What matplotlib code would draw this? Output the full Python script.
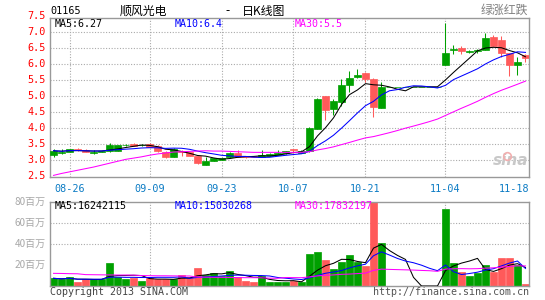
import numpy as np
import pandas as pd
import matplotlib
matplotlib.use("Agg")
import matplotlib.pyplot as plt
from matplotlib.transforms import blended_transform_factory

# ---------------- data ----------------
opens = [3.17, 3.21, 3.26, 3.36, 3.32, 3.22, 3.25, 3.27, 3.29, 3.46,
         3.51, 3.46, 3.51, 3.45, 3.26, 3.09, 3.29, 3.25, 3.13, 2.85,
         2.98, 3.00, 3.08, 3.21, 3.13, 3.13, 3.09, 3.13, 3.17, 3.21,
         3.35, 3.22, 3.27, 3.98, 4.99, 4.58, 4.82, 5.36, 5.60, 5.73,
         5.54, 4.64, 5.29, 5.29, 5.29, 5.29, 5.29, 5.29, 5.29, 5.97,
         6.43, 6.49, 6.38, 6.40, 6.44, 6.86, 6.75, 6.34, 5.97, 6.28]
highs = [3.34, 3.33, 3.35, 3.37, 3.33, 3.30, 3.29, 3.53, 3.48, 3.51,
         3.53, 3.50, 3.52, 3.46, 3.27, 3.37, 3.31, 3.26, 3.14, 3.08,
         3.07, 3.06, 3.24, 3.30, 3.14, 3.14, 3.32, 3.21, 3.30, 3.29,
         3.36, 3.30, 4.03, 4.93, 5.00, 4.92, 5.54, 5.78, 5.86, 5.75,
         5.55, 5.43, 5.29, 5.29, 5.29, 5.29, 5.29, 5.29, 5.29, 7.27,
         6.59, 6.57, 6.45, 6.48, 6.97, 6.91, 6.88, 6.35, 6.23, 6.30]
lows = [3.11, 3.20, 3.24, 3.29, 3.25, 3.20, 3.24, 3.26, 3.28, 3.44,
        3.44, 3.43, 3.41, 3.25, 3.06, 3.08, 3.13, 3.12, 2.88, 2.84,
        2.97, 2.99, 3.07, 3.10, 3.07, 3.08, 3.08, 3.12, 3.16, 3.20,
        3.23, 3.21, 3.26, 3.97, 4.26, 4.40, 4.68, 5.12, 5.55, 5.43,
        4.36, 4.62, 5.29, 5.29, 5.29, 5.29, 5.29, 5.29, 5.29, 5.97,
        6.33, 6.33, 6.35, 6.35, 6.43, 6.56, 6.23, 5.62, 5.65, 6.05]
closes = [3.29, 3.26, 3.33, 3.30, 3.26, 3.25, 3.28, 3.47, 3.47, 3.48,
          3.44, 3.48, 3.42, 3.27, 3.08, 3.33, 3.24, 3.14, 2.92, 2.98,
          3.05, 3.05, 3.23, 3.11, 3.08, 3.09, 3.16, 3.19, 3.23, 3.28,
          3.30, 3.28, 4.00, 4.91, 4.56, 4.84, 5.36, 5.55, 5.65, 5.54,
          4.66, 5.29, 5.29, 5.29, 5.29, 5.29, 5.29, 5.29, 5.29, 6.36,
          6.46, 6.41, 6.41, 6.43, 6.80, 6.57, 6.34, 5.97, 6.08, 6.18]
# volume in millions of shares
volumes = [7.3, 6.3, 8.2, 4.1, 6.3, 6.3, 6.3, 22.1, 8.8, 6.3,
           7.3, 5.0, 7.9, 6.3, 6.3, 6.3, 10.4, 8.2, 17.4, 10.4,
           12.0, 9.5, 14.2, 8.8, 5.0, 4.1, 9.5, 4.1, 3.5, 3.5,
           4.7, 4.1, 30.4, 32.3, 24.7, 16.1, 23.1, 29.4, 23.1, 19.0,
           85.0, 41.1, 0, 0, 0, 0, 0, 0, 0, 73.0,
           22.1, 13.6, 9.8, 12.6, 19.9, 13.3, 26.6, 26.6, 19.6, 1.9]
# MA30 values read for the first 29 sessions (need history before the window)
ma30_price_head = [2.52, 2.58, 2.63, 2.68, 2.73, 2.78, 2.84, 2.90, 2.96, 3.02,
                   3.06, 3.10, 3.15, 3.19, 3.22, 3.25, 3.26, 3.27, 3.28, 3.29,
                   3.28, 3.28, 3.27, 3.26, 3.25, 3.24, 3.24, 3.24, 3.24]
ma30_vol_head = [12.0, 11.9, 11.7, 11.6, 10.8, 10.7, 10.6, 10.5, 10.4, 10.4,
                 10.3, 9.9, 9.8, 9.7, 9.7, 9.6, 9.5, 9.5, 8.5, 8.4,
                 8.3, 8.2, 8.1, 8.0, 7.9, 7.9, 7.8, 7.4, 7.3]

tick_idx = [2, 12, 21, 30, 39, 49]
tick_labels = ['08-26', '09-09', '09-23', '10-07', '10-21', '11-04']
last_label = '11-18'
vol_grid_idx = [12, 49]
price_levels = [2.5, 3.0, 3.5, 4.0, 4.5, 5.0, 5.5, 6.0, 6.5, 7.0, 7.5]
price_grid = [3.0, 3.5, 4.0, 4.5, 5.0, 5.5, 6.0, 6.5, 7.0]
vol_levels = [20, 40, 60, 80]
vol_grid = [40, 60]

ma_text_price = ['MA5:6.27', 'MA10:6.4', 'MA30:5.5']
ma_text_vol = ['MA5:16242115', 'MA10:15030268', 'MA30:17832197']

# ---------------- derived ----------------
n = len(closes)
x = np.arange(n)
o = np.array(opens); c = np.array(closes)
h = np.array(highs); l = np.array(lows)
v = np.array(volumes)
GREEN = '#00A000'
RED = '#FF5A5A'
up = c >= o
cols = np.where(up, GREEN, RED)

cs = pd.Series(closes)
ma5 = cs.rolling(5, min_periods=1).mean().values
ma10 = cs.rolling(10, min_periods=1).mean().values
ma30 = cs.rolling(30).mean().values
ma30[:len(ma30_price_head)] = ma30_price_head

vs = pd.Series(volumes)
vma5 = vs.rolling(5, min_periods=1).mean().values
vma10 = vs.rolling(10, min_periods=1).mean().values
vma30 = vs.rolling(30).mean().values
vma30[:len(ma30_vol_head)] = ma30_vol_head

# ---------------- figure ----------------
W, H = 545, 300
fig = plt.figure(figsize=(W / 100, H / 100), dpi=100)
fig.patch.set_facecolor('white')


def fx(px):
    return px / W


def fy(py):
    return 1 - py / H


ax = fig.add_axes([fx(50), fy(177.3), fx(529) - fx(50), fy(18) - fy(177.3)])
axv = fig.add_axes([fx(50), fy(286), fx(529) - fx(50), fy(201.7) - fy(286)])

MONO = 'DejaVu Sans Mono'
CJK = ['Noto Sans CJK SC', 'DejaVu Sans']
GRID = dict(color='#AAAAAA', lw=0.8, ls=(0, (1, 1.5)), zorder=0)
LW = 0.75

for a in (ax, axv):
    a.set_xlim(-0.44, n - 0.56)
    a.set_xticks([]); a.set_yticks([])
    for s in a.spines.values():
        s.set_color('#999999'); s.set_linewidth(1.0)

ax.set_ylim(2.46, 7.44)
axv.set_ylim(0, 80)

for g in price_grid:
    ax.axhline(g, **GRID)
for t in tick_idx:
    ax.axvline(t, **GRID)
for g in vol_grid:
    axv.axhline(g, **GRID)
for t in vol_grid_idx:
    axv.axvline(t, **GRID)

# candles
BW = 0.82
ax.vlines(x, l, h, colors=cols, lw=LW, zorder=2)
ax.bar(x, np.abs(c - o), bottom=np.minimum(o, c), width=BW, color=cols,
       edgecolor=cols, linewidth=0.5, zorder=3)

ax.plot(x, ma5, color='black', lw=LW, zorder=4)
ax.plot(x, ma10, color='#0000FF', lw=LW, zorder=4)
ax.plot(x, ma30, color='#FF00FF', lw=LW, zorder=4)

# volume
axv.bar(x, v, width=BW, color=cols, edgecolor=cols, linewidth=0.5, zorder=2)
axv.plot(x, vma5, color='black', lw=LW, zorder=4)
axv.plot(x, vma10, color='#0000FF', lw=LW, zorder=4)
axv.plot(x, vma30, color='#FF00FF', lw=LW, zorder=4)

# sina watermark
ax.text(0.998, 0.06, 'sina', transform=ax.transAxes, ha='right', va='bottom',
        fontsize=11, style='italic', weight='bold', color='#C8C8C8', zorder=1)
ax.plot([0.955], [0.135], transform=ax.transAxes, marker='o', ms=5.5,
        mfc='none', mec='#F2AFAF', mew=1.2, zorder=1)

# price labels
tp = blended_transform_factory(ax.transAxes, ax.transData)
xlab = (45.5 - 50) / 479
for p in price_levels:
    ax.text(xlab, p, f'{p:.1f}', transform=tp, ha='right', va='center',
            color='#FF0000', fontsize=7.3, family=MONO, clip_on=False)

# date labels
td = blended_transform_factory(ax.transData, ax.transAxes)
ydl = (177.3 - 188.5) / 159.3
for t, s in zip(tick_idx, tick_labels):
    ax.text(t, ydl, s, transform=td, ha='center', va='center',
            color='#0B7BC4', fontsize=7.3, family=MONO, clip_on=False)
ax.text(1.0, ydl, last_label, transform=ax.transAxes, ha='right', va='center',
        color='#0B7BC4', fontsize=7.3, family=MONO, clip_on=False)

# volume labels
tv = blended_transform_factory(axv.transAxes, axv.transData)
for lv in vol_levels:
    axv.text(xlab, lv, f'{lv}百万', transform=tv, ha='right', va='center',
             color='#A8A8A8', fontsize=7.2, family=CJK, clip_on=False)

# MA legend texts
ma_cols = ['black', '#0000FF', '#FF00FF']
for xp, s, col in zip([55, 175, 295], ma_text_price, ma_cols):
    fig.text(fx(xp), fy(24), s, color=col, fontsize=7.2, family=MONO,
             ha='left', va='center')
for xp, s, col in zip([55, 175, 295], ma_text_vol, ma_cols):
    fig.text(fx(xp), fy(206), s, color=col, fontsize=7.2, family=MONO,
             ha='left', va='center')

# header
fig.text(fx(50), fy(11), '01165', color='black', fontsize=7.3, family=MONO,
         ha='left', va='center')
fig.text(fx(120), fy(11), '顺风光电', color='black', fontsize=8.6, family=CJK,
         ha='left', va='center')
fig.text(fx(225), fy(11), '-', color='black', fontsize=8.6, family=CJK,
         ha='left', va='center')
fig.text(fx(242), fy(11), '日K线图', color='black', fontsize=8.6, family=CJK,
         ha='left', va='center')
fig.text(fx(528), fy(10), '绿涨红跌', color='#808080', fontsize=8.6, family=CJK,
         ha='right', va='center')

# footer
fig.text(fx(50), fy(292), 'Copyright 2013 SINA.COM', color='#444444',
         fontsize=7.2, family=MONO, ha='left', va='center')
fig.text(fx(529), fy(292), 'http://finance.sina.com.cn', color='#555555',
         fontsize=7.2, family=MONO, ha='right', va='center')

fig.savefig('out.png', dpi=100, facecolor='white')
